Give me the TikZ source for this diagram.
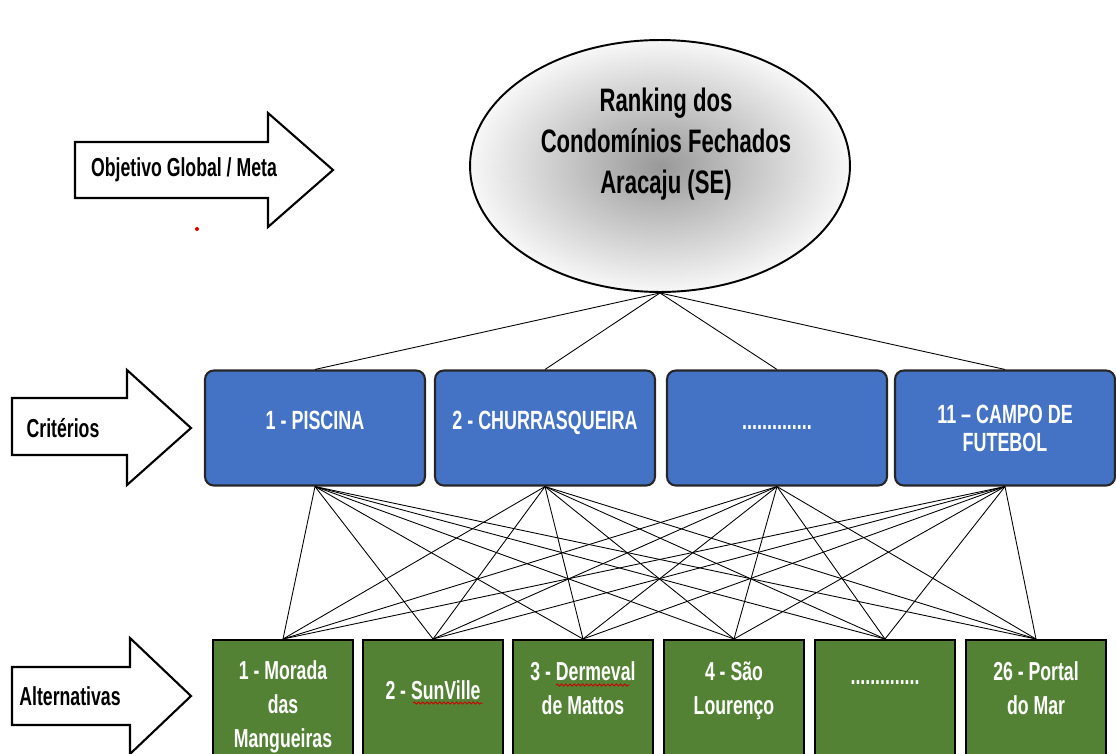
\documentclass[tikz,border=0pt]{standalone}
\usepackage{fontspec}
\setmainfont{Liberation Sans}
\newfontfamily\narrowsf[FakeStretch=0.68]{Liberation Sans}
\usetikzlibrary{shapes.geometric,decorations.pathmorphing}
\definecolor{critblue}{RGB}{68,114,196}
\definecolor{altgreen}{RGB}{84,130,53}

\begin{document}
\begin{tikzpicture}[x=0.02cm,y=-0.02cm,
    meta/.style={ellipse,draw,line width=1.1pt,inner sep=0pt,
      minimum width=7.6cm,minimum height=5.04cm,
      inner color=gray!80,outer color=gray!6},
    metatext/.style={align=center,inner sep=0pt,
      font=\narrowsf\bfseries\fontsize{18.5}{23.5}\selectfont},
    crit/.style={rectangle,rounded corners=5pt,draw=black!85,line width=1.2pt,
      fill=critblue,text=white,minimum width=4.4cm,minimum height=2.3cm,
      align=center,font=\narrowsf\bfseries\fontsize{15}{16}\selectfont},
    alt/.style={rectangle,draw,line width=1.2pt,fill=altgreen,
      minimum width=2.8cm,minimum height=2.6cm,anchor=north},
    alttext/.style={text=white,align=center,anchor=north,inner sep=0pt,
      font=\narrowsf\bfseries\fontsize{14.8}{19.3}\selectfont},
    bigarrow/.style={draw,line width=1.2pt,fill=white},
    lbl/.style={font=\narrowsf\bfseries\fontsize{14.8}{16}\selectfont},
    link/.style={line width=0.5pt},
    squiggle/.style={red!80!black,line width=0.5pt,decorate,
      decoration={snake,amplitude=0.6pt,segment length=2.4pt}}
  ]
  \useasboundingbox (0,0) rectangle (1116,754);

  % level arrows
  \draw[bigarrow] (75,142) -- (268,142) -- (268,113) -- (333,170)
    -- (268,227) -- (268,198) -- (75,198) -- cycle;
  \draw[bigarrow] (12,398) -- (127,398) -- (127,370) -- (191,428)
    -- (127,485) -- (127,455) -- (12,455) -- cycle;
  \draw[bigarrow] (12,667) -- (130,667) -- (130,638) -- (191,696)
    -- (130,754) -- (130,725) -- (12,725) -- cycle;
  \node[lbl] (lblmeta) at (184,170) {Objetivo Global / Meta};
  \node[lbl] (lblcrit) at (63,428) {Critérios};
  \node[lbl] (lblalt)  at (70,696) {Alternativas};
  \fill[red!85!black] (197,229) circle (2);

  % goal
  \node[meta] (goal) at (660,166) {};
  \node[metatext] (goaltxt) at (666,144) {Ranking dos\\Condomínios Fechados\\Aracaju (SE)};

  % criteria
  \begin{scope}[every node/.style={crit}]
    \node[text depth=9pt] (c1) at (315,428) {1 - PISCINA};
    \node[text depth=9pt] (c2) at (545,428) {2 - CHURRASQUEIRA};
    \node (c3) at (777,428) {..............};
    \node (c4) at (1005,428) {11 – CAMPO DE\\FUTEBOL};
  \end{scope}

  % alternatives
  \begin{scope}[every node/.style={alt}]
    \node (a1) at (283,639) {};
    \node (a2) at (433,639) {};
    \node (a3) at (583,639) {};
    \node (a4) at (734,639) {};
    \node (a5) at (885,639) {};
    \node (a6) at (1036,639) {};
  \end{scope}

  \begin{scope}[every node/.style={alttext}]
    \node (t1) at (283,660) {1 - Morada\\das\\Mangueiras};
    \node (t2) at (433,680) {2 - SunVille};
    \node (t3) at (583,661) {3 - Dermeval\\de Mattos};
    \node (t4) at (734,661) {4 - São\\Lourenço};
    \node (t5) at (885,680) {..............};
    \node (t6) at (1036,661) {26 - Portal\\do Mar};
  \end{scope}
  \draw[squiggle] (413,703) -- (483,703);
  \draw[squiggle] (556,685) -- (630,685);

  % goal to criteria
  \begin{scope}[every edge/.style={draw,link}]
    \path (goal.south) edge (c1.north) edge (c2.north)
      edge (c3.north) edge (c4.north);

    % criteria to alternatives
    \path (c1.south) edge (a1.north) edge (a2.north) edge (a3.north)
      edge (a4.north) edge (a5.north) edge (a6.north);
    \path (c2.south) edge (a1.north) edge (a2.north) edge (a3.north)
      edge (a4.north) edge (a5.north) edge (a6.north);
    \path (c3.south) edge (a1.north) edge (a2.north) edge (a3.north)
      edge (a4.north) edge (a5.north) edge (a6.north);
    \path (c4.south) edge (a1.north) edge (a2.north) edge (a3.north)
      edge (a4.north) edge (a5.north) edge (a6.north);
  \end{scope}
\end{tikzpicture}
\end{document}
